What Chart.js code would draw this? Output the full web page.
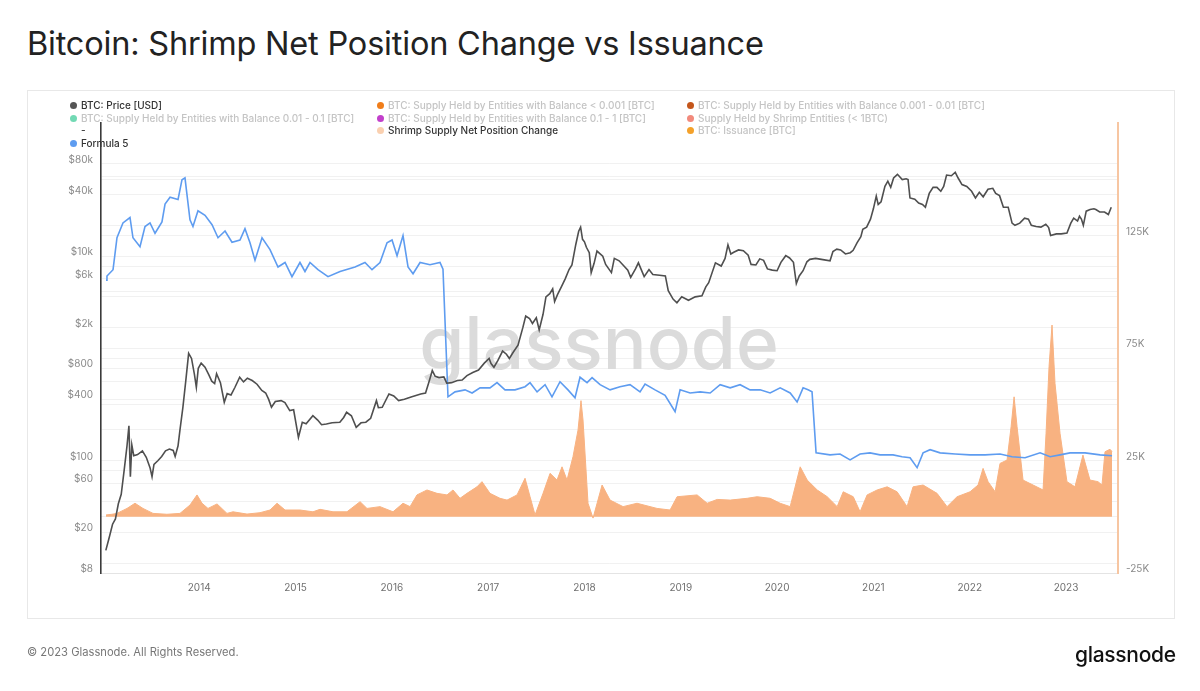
<!DOCTYPE html>
<html>
<head>
<meta charset="utf-8">
<script src="https://cdn.jsdelivr.net/npm/chart.js@4.4.0/dist/chart.umd.min.js"></script>
<style>
  body { margin:0; width:1200px; height:691px; background:#fff; font-family: Inter, "Noto Sans", sans-serif; position:relative; overflow:hidden; }
  #title { position:absolute; left:27px; top:24px; font-size:32.5px; color:#222; letter-spacing:-0.2px; }
  #box { position:absolute; left:27px; top:90px; width:1148px; height:529px; border:1px solid #e8e8e8; box-sizing:border-box; }
  #wrap { position:absolute; left:0; top:0; width:1200px; height:691px; }
  .leg { position:absolute; font-size:10px; white-space:nowrap; line-height:12px; font-weight:500; }
  .leg .dot { display:inline-block; width:7px; height:7px; border-radius:50%; margin-right:4px; vertical-align:0px; }
  #foot { position:absolute; left:27px; top:645px; font-size:11.2px; color:#777; }
  #logo { position:absolute; left:1075px; top:642px; font-size:21px; color:#111; font-weight:500; letter-spacing:-0.3px; }
</style>
</head>
<body>
<div id="title">Bitcoin: Shrimp Net Position Change vs Issuance</div>
<div id="box"></div>
<div id="wrap"><canvas id="grafico" width="1200" height="691"></canvas></div>
<div id="legend"></div>
<div id="foot">© 2023 Glassnode. All Rights Reserved.</div>
<div id="logo">glassnode</div>
<script>
// Precio BTC (USD), fechas en años decimales
const priceYears = [
  2013.03, 2013.06, 2013.10, 2013.13, 2013.16, 2013.19, 2013.22, 2013.25, 2013.27, 2013.285,
  2013.30, 2013.32, 2013.36, 2013.41, 2013.45, 2013.49, 2013.51, 2013.53, 2013.57, 2013.61,
  2013.65, 2013.69, 2013.73, 2013.75, 2013.78, 2013.80, 2013.83, 2013.86, 2013.89, 2013.92,
  2013.95, 2013.97, 2013.99, 2014.02, 2014.06, 2014.10, 2014.13, 2014.16, 2014.18, 2014.22,
  2014.26, 2014.29, 2014.33, 2014.37, 2014.42, 2014.46, 2014.50, 2014.55, 2014.60, 2014.65,
  2014.69, 2014.72, 2014.75, 2014.79, 2014.85, 2014.89, 2014.94, 2014.98, 2015.03, 2015.07,
  2015.11, 2015.18, 2015.23, 2015.27, 2015.32, 2015.38, 2015.46, 2015.50, 2015.53, 2015.58,
  2015.63, 2015.68, 2015.73, 2015.78, 2015.84, 2015.86, 2015.90, 2015.97, 2016.02, 2016.07,
  2016.13, 2016.20, 2016.30, 2016.35, 2016.39, 2016.42, 2016.45, 2016.49, 2016.54, 2016.57,
  2016.62, 2016.68, 2016.73, 2016.78, 2016.84, 2016.90, 2016.96, 2017.01, 2017.03, 2017.06,
  2017.10, 2017.15, 2017.19, 2017.22, 2017.26, 2017.31, 2017.36, 2017.39, 2017.43, 2017.46,
  2017.50, 2017.53, 2017.57, 2017.60, 2017.64, 2017.67, 2017.69, 2017.72, 2017.76, 2017.80,
  2017.84, 2017.87, 2017.91, 2017.94, 2017.96, 2017.98, 2018.00, 2018.02, 2018.05, 2018.07,
  2018.10, 2018.13, 2018.19, 2018.22, 2018.28, 2018.31, 2018.36, 2018.41, 2018.45, 2018.48,
  2018.53, 2018.56, 2018.62, 2018.67, 2018.71, 2018.78, 2018.84, 2018.87, 2018.92, 2018.96,
  2019.01, 2019.08, 2019.15, 2019.22, 2019.26, 2019.29, 2019.36, 2019.42, 2019.46, 2019.49,
  2019.52, 2019.55, 2019.60, 2019.65, 2019.70, 2019.73, 2019.78, 2019.82, 2019.86, 2019.90,
  2019.95, 2020.00, 2020.04, 2020.09, 2020.13, 2020.17, 2020.20, 2020.23, 2020.27, 2020.31,
  2020.34, 2020.40, 2020.46, 2020.55, 2020.58, 2020.62, 2020.66, 2020.71, 2020.76, 2020.79,
  2020.83, 2020.87, 2020.89, 2020.93, 2020.97, 2021.00, 2021.03, 2021.05, 2021.08, 2021.12,
  2021.15, 2021.18, 2021.21, 2021.25, 2021.30, 2021.34, 2021.36, 2021.38, 2021.43, 2021.47,
  2021.51, 2021.54, 2021.58, 2021.62, 2021.66, 2021.70, 2021.73, 2021.76, 2021.81, 2021.85,
  2021.88, 2021.92, 2021.97, 2022.02, 2022.06, 2022.10, 2022.14, 2022.19, 2022.24, 2022.27,
  2022.31, 2022.35, 2022.40, 2022.44, 2022.47, 2022.52, 2022.57, 2022.61, 2022.64, 2022.69,
  2022.74, 2022.79, 2022.82, 2022.84, 2022.90, 2022.95, 2023.01, 2023.05, 2023.08, 2023.12,
  2023.14, 2023.16, 2023.18, 2023.21, 2023.25, 2023.29, 2023.31, 2023.35, 2023.40, 2023.44,
  2023.47
];
const priceUsd = [
  13.3, 17, 24, 27, 38, 47, 80, 140, 220, 70,
  143, 112, 115, 125, 108, 85, 70, 92, 100, 110,
  125, 130, 126, 110, 140, 200, 330, 600, 1120, 1000,
  700, 522, 800, 900, 820, 690, 600, 568, 711, 580,
  373, 453, 440, 520, 655, 590, 640, 608, 560, 486,
  460, 400, 333, 380, 387, 370, 309, 315, 169, 238,
  230, 276, 250, 225, 229, 235, 238, 265, 298, 275,
  212, 235, 238, 260, 387, 330, 333, 450, 430, 387,
  400, 420, 450, 460, 608, 762, 670, 650, 660, 573,
  580, 608, 615, 680, 730, 770, 900, 1000, 890, 820,
  950, 1180, 1100, 1000, 1150, 1350, 2000, 2600, 2450, 2200,
  2500, 1900, 2700, 4000, 4300, 4800, 3600, 4200, 5000, 6000,
  7400, 8200, 13000, 17500, 19200, 14600, 13800, 12200, 10800, 6900,
  8500, 11200, 10000, 8300, 6900, 9500, 9000, 8000, 7300, 6200,
  7500, 8600, 6300, 7400, 6600, 6500, 6400, 4600, 3800, 3500,
  4000, 3700, 4000, 4100, 5000, 5500, 8600, 8000, 9500, 12900,
  10500, 10900, 11500, 11300, 10200, 8300, 8200, 9400, 9100, 7500,
  7300, 7200, 8700, 10100, 9600, 8700, 5400, 6400, 7200, 8800,
  9300, 9500, 9300, 9000, 11100, 11700, 11500, 10500, 10800, 11400,
  13500, 15500, 18300, 19200, 23000, 29000, 38600, 32000, 34000, 48000,
  54000, 47000, 58000, 63000, 56000, 57000, 56000, 37000, 36000, 33000,
  32000, 30000, 41000, 47000, 47000, 43000, 48000, 62000, 61000, 66000,
  58000, 50000, 48000, 43000, 37000, 42000, 38000, 45000, 46000, 41000,
  39000, 30000, 30000, 21000, 20000, 21000, 23500, 23000, 20000, 19500,
  19200, 20500, 19000, 15900, 16500, 16500, 16800, 21000, 23500, 22000,
  24500, 23000, 20000, 27500, 28500, 29000, 28500, 27000, 27000, 25500,
  30000
];

// Formula 5 (emisión de 30 días, BTC)
const issuanceYears = [
  2013.032, 2013.042, 2013.105, 2013.146, 2013.208, 2013.281, 2013.312, 2013.385, 2013.437, 2013.489,
  2013.541, 2013.613, 2013.645, 2013.697, 2013.780, 2013.821, 2013.852, 2013.904, 2013.935, 2013.987,
  2014.060, 2014.133, 2014.195, 2014.268, 2014.340, 2014.423, 2014.475, 2014.527, 2014.579, 2014.652,
  2014.735, 2014.818, 2014.891, 2014.963, 2015.046, 2015.098, 2015.150, 2015.233, 2015.337, 2015.462,
  2015.618, 2015.721, 2015.794, 2015.877, 2015.950, 2016.002, 2016.054, 2016.116, 2016.168, 2016.220,
  2016.293, 2016.396, 2016.500, 2016.531, 2016.583, 2016.656, 2016.760, 2016.833, 2016.916, 2017.019,
  2017.092, 2017.175, 2017.279, 2017.383, 2017.435, 2017.508, 2017.591, 2017.663, 2017.746, 2017.829,
  2017.902, 2017.954, 2018.027, 2018.079, 2018.162, 2018.266, 2018.369, 2018.473, 2018.577, 2018.629,
  2018.733, 2018.837, 2018.910, 2018.941, 2018.993, 2019.097, 2019.201, 2019.305, 2019.409, 2019.513,
  2019.616, 2019.720, 2019.824, 2019.928, 2020.032, 2020.136, 2020.208, 2020.270, 2020.322, 2020.363,
  2020.405, 2020.550, 2020.654, 2020.758, 2020.862, 2020.965, 2021.069, 2021.204, 2021.298, 2021.381,
  2021.454, 2021.516, 2021.589, 2021.693, 2021.849, 2022.004, 2022.160, 2022.315, 2022.440, 2022.575,
  2022.731, 2022.835, 2022.938, 2023.042, 2023.198, 2023.354, 2023.478
];
const issuanceBtc = [
  105100, 107000, 109800, 124000, 130600, 133000, 124000, 120000, 129000, 130600,
  126000, 131000, 139000, 142000, 141000, 149800, 150600, 132000, 129000, 136000,
  134000, 129800, 124000, 127000, 122000, 123000, 128000, 121800, 114000, 124000,
  118700, 111000, 113000, 106700, 113000, 109000, 113000, 109800, 106700, 109000,
  111000, 113000, 109800, 113000, 121800, 123000, 116000, 125000, 111000, 108000,
  113000, 112000, 113000, 110000, 53300, 55500, 56400, 55000, 57300, 57300,
  59600, 56400, 56400, 57800, 59600, 55500, 58700, 53300, 60000, 56400,
  52900, 62000, 59600, 61800, 58700, 56400, 57800, 58700, 55500, 59000,
  56400, 54000, 48900, 46700, 56400, 55000, 55500, 55000, 58700, 57300,
  58700, 56400, 56400, 55000, 57300, 55000, 51000, 57300, 56400, 55500,
  28400, 27500, 27900, 25300, 27900, 28400, 27500, 27500, 26700, 26200,
  21800, 28400, 29800, 28400, 27900, 27500, 27500, 27900, 26700, 26200,
  28400, 26700, 27500, 28400, 28400, 27500, 27100
];

// Shrimp Supply Net Position Change (BTC)
const shrimpYears = [
  2013.032, 2013.094, 2013.146, 2013.250, 2013.333, 2013.416, 2013.520, 2013.665, 2013.800, 2013.904,
  2013.977, 2014.029, 2014.091, 2014.185, 2014.288, 2014.351, 2014.496, 2014.631, 2014.735, 2014.808,
  2014.891, 2015.046, 2015.181, 2015.254, 2015.389, 2015.534, 2015.670, 2015.742, 2015.877, 2016.012,
  2016.116, 2016.189, 2016.261, 2016.365, 2016.469, 2016.573, 2016.635, 2016.708, 2016.780, 2016.884,
  2016.936, 2017.019, 2017.123, 2017.196, 2017.300, 2017.383, 2017.435, 2017.487, 2017.570, 2017.643,
  2017.715, 2017.767, 2017.819, 2017.881, 2017.933, 2017.964, 2017.985, 2018.037, 2018.089, 2018.183,
  2018.266, 2018.401, 2018.546, 2018.754, 2018.889, 2018.962, 2019.170, 2019.274, 2019.378, 2019.513,
  2019.689, 2019.793, 2019.928, 2020.032, 2020.136, 2020.240, 2020.313, 2020.417, 2020.521, 2020.624,
  2020.687, 2020.791, 2020.862, 2020.935, 2021.039, 2021.143, 2021.246, 2021.350, 2021.412, 2021.516,
  2021.661, 2021.765, 2021.869, 2022.004, 2022.087, 2022.139, 2022.191, 2022.264, 2022.315, 2022.388,
  2022.430, 2022.461, 2022.492, 2022.554, 2022.658, 2022.762, 2022.793, 2022.824, 2022.855, 2022.886,
  2022.938, 2023.010, 2023.093, 2023.176, 2023.249, 2023.332, 2023.374, 2023.405, 2023.457, 2023.478
];
const shrimpNetChange = [
  800, 1100, 1500, 3700, 6000, 3700, 1500, 1100, 1500, 5200,
  9700, 6000, 3700, 5700, 1500, 2200, 1200, 1800, 3000, 6000,
  3000, 3000, 2200, 3300, 2200, 2200, 6700, 3700, 4500, 2200,
  6000, 4500, 9700, 11900, 10400, 9700, 11900, 8200, 10400, 13300,
  15600, 10400, 8200, 7400, 9700, 17100, 8900, 800, 10400, 19300,
  16300, 22200, 16300, 26700, 38500, 51600, 43000, 6000, -600, 14100,
  7400, 4500, 6000, 3700, 3000, 8900, 9700, 6000, 7700, 7400,
  8200, 8900, 8200, 6000, 4500, 22200, 16300, 11900, 8900, 4500,
  11100, 8900, 2200, 9700, 11900, 13300, 11100, 4500, 13300, 14100,
  10400, 4500, 8900, 11100, 14100, 21500, 15600, 11100, 23700, 25200,
  40000, 53300, 40000, 16300, 14100, 11900, 37100, 66700, 85200, 59300,
  37100, 15600, 13300, 27400, 16300, 15600, 14100, 28900, 30000, 29000
];

// Ejes
const yearTicks = [2014, 2015, 2016, 2017, 2018, 2019, 2020, 2021, 2022, 2023];
const priceGridValues = [8, 10, 20, 40, 60, 80, 100, 200, 400, 600, 800, 1000, 2000, 4000, 6000, 8000, 10000, 20000, 40000, 60000, 80000];
const priceTickValues = [8, 20, 60, 100, 400, 800, 2000, 6000, 10000, 40000, 80000];
const priceTickLabels = ["$8", "$20", "$60", "$100", "$400", "$800", "$2k", "$6k", "$10k", "$40k", "$80k"];
const btcGridValues = [-25000, 0, 25000, 50000, 75000, 100000, 125000, 150000];
const btcTickValues = [-25000, 25000, 75000, 125000];
const btcTickLabels = ["-25K", "25K", "75K", "125K"];

// Leyenda (la mayoría de series están ocultas en el original)
const legendItems = [
  { name: "BTC: Price [USD]", color: "#555555", on: true, left: 70, top: 99 },
  { name: "BTC: Supply Held by Entities with Balance < 0.001 [BTC]", color: "#f07d1a", on: false, left: 377, top: 99 },
  { name: "BTC: Supply Held by Entities with Balance 0.001 - 0.01 [BTC]", color: "#c4561b", on: false, left: 687, top: 99 },
  { name: "BTC: Supply Held by Entities with Balance 0.01 - 0.1 [BTC]", color: "#72d9b4", on: false, left: 70, top: 111.5 },
  { name: "BTC: Supply Held by Entities with Balance 0.1 - 1 [BTC]", color: "#c23fcb", on: false, left: 377, top: 111.5 },
  { name: "Supply Held by Shrimp Entities (< 1BTC)", color: "#f28a7c", on: false, left: 687, top: 111.5 },
  { name: "-", color: null, on: true, left: 81, top: 124 },
  { name: "Shrimp Supply Net Position Change", color: "#fad0b0", on: true, left: 377, top: 124 },
  { name: "BTC: Issuance [BTC]", color: "#f4a12a", on: false, left: 687, top: 124 },
  { name: "Formula 5", color: "#5e9cf0", on: true, left: 70, top: 136.5 }
];

let leyenda = document.getElementById("legend");
legendItems.forEach(function (it) {
  let d = document.createElement("div");
  d.className = "leg";
  d.style.left = it.left + "px";
  d.style.top = it.top + "px";
  d.style.color = it.on ? "#333" : "#c4c4c4";
  if (it.color) {
    let s = document.createElement("span");
    s.className = "dot";
    s.style.background = it.color;
    d.appendChild(s);
  }
  d.appendChild(document.createTextNode(it.name));
  leyenda.appendChild(d);
});

const toPoints = (xs, ys) => xs.map((x, i) => ({ x: x, y: ys[i] }));

// Marca de agua
const marcaAgua = {
  id: "marcaAgua",
  beforeDatasetsDraw(chart) {
    let c = chart.ctx;
    c.save();
    c.font = "500 73px Inter, sans-serif";
    c.fillStyle = "#dbdbdb";
    c.textAlign = "center";
    c.textBaseline = "alphabetic";
    c.fillText("glassnode", 599, 369);
    c.restore();
  }
};

let ejeTexto = { size: 10, family: "Inter, sans-serif" };

let ctx = document.getElementById("grafico").getContext("2d");
let grafico = new Chart(ctx, {
  type: "line",
  data: {
    datasets: [
      {
        label: "BTC: Price [USD]",
        data: toPoints(priceYears, priceUsd),
        yAxisID: "yPrice",
        borderColor: "#4f4f4f",
        borderWidth: 1.6,
        pointRadius: 0,
        order: 0,
      },
      {
        label: "Formula 5",
        data: toPoints(issuanceYears, issuanceBtc),
        yAxisID: "yBtc",
        borderColor: "#5e9cf0",
        borderWidth: 1.6,
        pointRadius: 0,
        order: 1,
      },
      {
        label: "Shrimp Supply Net Position Change",
        data: toPoints(shrimpYears, shrimpNetChange),
        yAxisID: "yBtc",
        borderColor: "#f8b281",
        backgroundColor: "#f8b281",
        borderWidth: 1,
        fill: "origin",
        pointRadius: 0,
        order: 2,
      },
    ],
  },
  options: {
    responsive: false,
    animation: false,
    layout: { padding: { top: 123, bottom: 88, left: 0, right: 0 } },
    plugins: { legend: { display: false }, tooltip: { enabled: false } },
    scales: {
      x: {
        type: "linear",
        min: 2012.98,
        max: 2023.54,
        afterBuildTicks: (s) => { s.ticks = yearTicks.map((v) => ({ value: v })); },
        afterFit: (s) => { s.height = 30; },
        grid: { display: false, drawTicks: false },
        border: { color: "#e4e4e4", width: 1 },
        ticks: { padding: 9, color: "#707070", font: ejeTexto, maxRotation: 0, autoSkip: false, callback: (v) => String(v) },
      },
      yPrice: {
        type: "logarithmic",
        position: "left",
        min: 8,
        max: 200000,
        afterBuildTicks: (s) => { s.ticks = priceGridValues.map((v) => ({ value: v })); },
        afterFit: (s) => { s.width = 101; },
        grid: { color: "#f1f1f1", drawTicks: false },
        border: { color: "#3a3a3a", width: 1.6 },
        ticks: {
          padding: 8, labelOffset: -4, color: "#8a8a8a", font: ejeTexto, autoSkip: false,
          callback: (v) => { let i = priceTickValues.indexOf(v); return i >= 0 ? priceTickLabels[i] : ""; },
        },
      },
      yBtc: {
        type: "linear",
        position: "right",
        min: -25000,
        max: 175000,
        afterBuildTicks: (s) => { s.ticks = btcGridValues.map((v) => ({ value: v })); },
        afterFit: (s) => { s.width = 82; },
        grid: { color: "#f1f1f1", drawTicks: false },
        border: { color: "#f7c6a2", width: 2 },
        ticks: {
          padding: 8, labelOffset: -4, color: "#8a8a8a", font: ejeTexto, autoSkip: false,
          callback: (v) => { let i = btcTickValues.indexOf(v); return i >= 0 ? btcTickLabels[i] : ""; },
        },
      },
    },
  },
  plugins: [marcaAgua],
});
</script>
</body>
</html>
